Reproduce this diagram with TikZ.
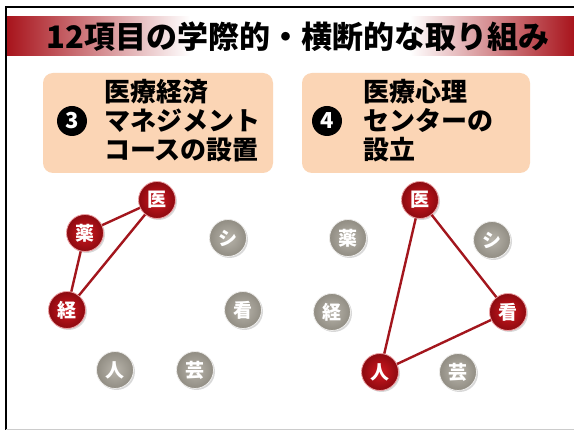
\documentclass[tikz,border=0pt]{standalone}
\usepackage{fontspec}
\newfontfamily\jp{Noto Sans CJK JP}
\usetikzlibrary{shadows}
\definecolor{bannerred}{HTML}{A8141C}
\definecolor{peach}{HTML}{FBD5B5}
\definecolor{ballred}{HTML}{D01820}
\definecolor{balldark}{HTML}{8C0A10}
\definecolor{ballgray}{HTML}{B8B4AB}
\definecolor{graydark}{HTML}{918D83}
\definecolor{linkred}{HTML}{A3161D}

\tikzset{
  ball/.style={circle, minimum size=37pt, inner sep=0pt, line width=0.8pt, text=white,
    font=\jp\bfseries\fontsize{19}{19}\selectfont,
    drop shadow={opacity=.3, shadow xshift=1.5pt, shadow yshift=-1.5pt}},
  redball/.style={ball, inner color=ballred, outer color=balldark, draw=ballred!40!white},
  grayball/.style={ball, inner color=ballgray, outer color=graydark, draw=white!75!ballgray},
  link/.style={linkred, line width=2.4pt},
  numdot/.style={circle, fill=black, minimum size=30pt, inner sep=0pt, text=white,
    font=\jp\bfseries\fontsize{22}{22}\selectfont},
  caption/.style={anchor=west, align=left, inner sep=0pt,
    font=\jp\bfseries\fontsize{26}{29}\selectfont},
  topicbox/.style={fill=peach, rounded corners=10pt, minimum height=100pt}
}

\begin{document}
\begin{tikzpicture}[x=1pt, y=-1pt]
  \useasboundingbox[fill=white] (0,0) rectangle (574,430);
  % frame and title banner
  \draw[line width=1.3pt] (6,430) -- (6,7) -- (574,7);
  \draw[gray!40] (6,429.5) -- (574,429.5);
  \shade[left color=bannerred, right color=white] (7,17) rectangle (190,56);
  \shade[left color=white, right color=bannerred] (410,17) rectangle (574,56);
  \node[font=\jp\bfseries\fontsize{31}{31}\selectfont] (title) at (298,37)
    {12項目の学際的・横断的な取り組み};

  % topic boxes
  \node[topicbox, minimum width=230pt] (boxL) at (158,123) {};
  \node[topicbox, minimum width=228pt] (boxR) at (416,123) {};
  \node[numdot] (num3) at (72,121) {3};
  \node[caption] (capL) at (104,121) {医療経済\\マネジメント\\コースの設置};
  \node[numdot] (num4) at (327,121) {4};
  \node[caption] (capR) at (363,121) {医療心理\\センターの\\設立};

  % left group
  \node[redball] (lI) at (157,200) {医};
  \node[redball] (lY) at (85,233) {薬};
  \node[redball] (lK) at (67,310) {経};
  \node[grayball] (lS) at (228,238) {シ};
  \node[grayball] (lN) at (243,310) {看};
  \node[grayball] (lH) at (115,370) {人};
  \node[grayball] (lG) at (195,370) {芸};
  \draw[link] (lI) -- (lY) (lY) -- (lK) (lK) -- (lI);

  % right group
  \node[redball] (rI) at (420,200) {医};
  \node[grayball] (rY) at (348,238) {薬};
  \node[grayball] (rS) at (492,240) {シ};
  \node[grayball] (rK) at (332,312) {経};
  \node[redball] (rN) at (508,312) {看};
  \node[redball] (rH) at (380,372) {人};
  \node[grayball] (rG) at (458,372) {芸};
  \draw[link] (rI) -- (rN) (rN) -- (rH) (rH) -- (rI);
\end{tikzpicture}
\end{document}
